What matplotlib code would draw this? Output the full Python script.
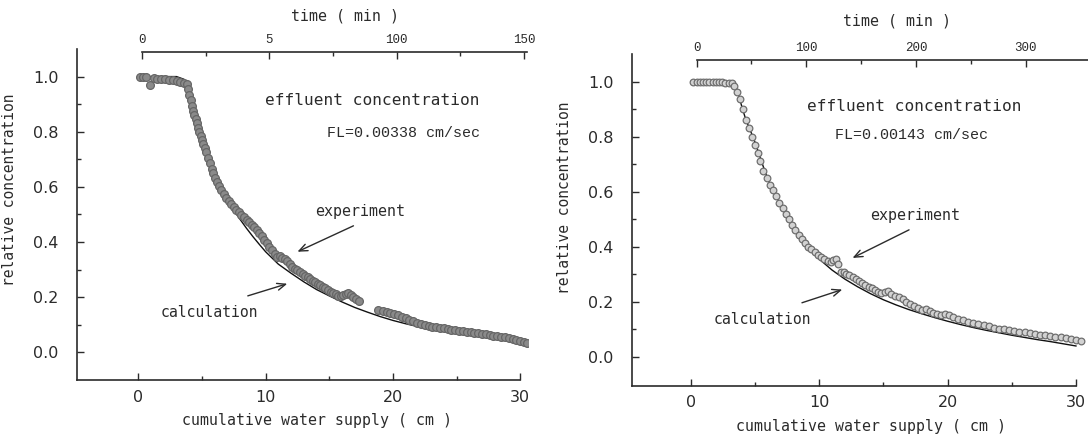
import matplotlib
matplotlib.use("Agg")
import matplotlib.pyplot as plt
from matplotlib import font_manager
from matplotlib.ticker import FixedLocator

# ---- values (x = cumulative water supply in cm) ----
left_exp_x = [0.15, 0.4, 0.6, 0.9, 1.2, 1.5, 1.8, 2.1, 2.4, 2.7, 3.0, 3.3, 3.6, 3.8,
              3.9, 4.0, 4.1, 4.2, 4.3, 4.4, 4.5, 4.6, 4.7, 4.8, 4.9, 5.0, 5.1, 5.2,
              5.3, 5.45, 5.6, 5.75, 5.9, 6.05, 6.2, 6.35, 6.5, 6.7, 6.9, 7.1, 7.3,
              7.5, 7.7, 7.9, 8.1, 8.3, 8.5, 8.7, 8.9, 9.1, 9.3, 9.5, 9.7, 9.9, 10.1,
              10.3, 10.5, 10.7, 10.9, 11.1, 11.3, 11.5, 11.7, 11.9, 12.1, 12.3, 12.5,
              12.7, 12.9, 13.1, 13.3, 13.5, 13.7, 13.9, 14.1, 14.3, 14.5, 14.7, 14.9,
              15.1, 15.3, 15.5, 15.7, 15.9, 16.1, 16.3, 16.5, 16.7, 16.9, 17.1, 17.3,
              18.8, 19.2, 19.5, 19.8, 20.1, 20.4, 20.7, 21.0, 21.3, 21.6, 21.9, 22.2,
              22.5, 22.8, 23.1, 23.4, 23.7, 24.0, 24.3, 24.6, 24.9, 25.2, 25.5, 25.8,
              26.1, 26.4, 26.7, 27.0, 27.3, 27.6, 27.9, 28.2, 28.5, 28.8, 29.1, 29.4,
              29.7, 30.0, 30.3, 30.5]
left_exp_y = [1.000, 0.999, 0.997, 0.970, 0.994, 0.992, 0.991, 0.990, 0.988, 0.986, 0.984, 0.981, 0.977, 0.973,
              0.955, 0.935, 0.915, 0.895, 0.875, 0.860, 0.845, 0.830, 0.815, 0.800, 0.785, 0.770, 0.755, 0.740,
              0.725, 0.705, 0.685, 0.665, 0.650, 0.632, 0.617, 0.603, 0.590, 0.575, 0.561, 0.549, 0.538,
              0.527, 0.517, 0.508, 0.499, 0.490, 0.481, 0.472, 0.463, 0.453, 0.443, 0.432, 0.421, 0.409, 0.396,
              0.383, 0.370, 0.355, 0.346, 0.348, 0.342, 0.337, 0.330, 0.320, 0.311, 0.304, 0.297,
              0.290, 0.283, 0.278, 0.272, 0.266, 0.260, 0.254, 0.248, 0.243, 0.238, 0.232, 0.226,
              0.220, 0.215, 0.210, 0.206, 0.205, 0.208, 0.213, 0.214, 0.208, 0.200, 0.193, 0.185,
              0.152, 0.150, 0.147, 0.143, 0.139, 0.134, 0.129, 0.124, 0.119, 0.114, 0.108, 0.103,
              0.098, 0.095, 0.093, 0.091, 0.089, 0.087, 0.085, 0.083, 0.081, 0.079, 0.077, 0.075,
              0.073, 0.071, 0.069, 0.067, 0.065, 0.063, 0.061, 0.059, 0.057, 0.055, 0.052, 0.049,
              0.046, 0.043, 0.039, 0.035]
left_calc_x = [0.0, 3.0, 3.6, 3.9, 4.2, 4.6, 5.0, 5.5, 6.0, 6.5, 7.0, 7.5, 8.0, 8.5, 9.0,
               9.5, 10.0, 11.0, 12.0, 13.0, 14.0, 15.0, 16.0, 17.0, 18.0, 19.0, 20.0,
               21.0, 22.0, 23.0, 24.0, 26.0, 28.0, 30.0]
left_calc_y = [1.0, 1.0, 0.99, 0.95, 0.89, 0.82, 0.76, 0.695, 0.64, 0.595, 0.555, 0.518, 0.482,
               0.450, 0.420, 0.392, 0.365, 0.320, 0.287, 0.256, 0.228, 0.205, 0.183, 0.163,
               0.146, 0.130, 0.116, 0.104, 0.093, 0.085, 0.078, 0.066, 0.054, 0.043]

right_exp_x = [0.2, 0.45, 0.7, 0.95, 1.2, 1.45, 1.7, 1.95, 2.2, 2.45, 2.7, 2.95, 3.2, 3.4,
               3.6, 3.8, 4.05, 4.3, 4.55, 4.8, 5.0, 5.2, 5.4, 5.65, 5.9, 6.15, 6.4, 6.65,
               6.9, 7.15, 7.4, 7.65, 7.9, 8.15, 8.4, 8.65, 8.9, 9.15, 9.4, 9.65, 9.9,
               10.15, 10.4, 10.65, 10.9, 11.1, 11.3, 11.5,
               11.7, 11.9, 12.1, 12.35, 12.6, 12.85, 13.1, 13.35, 13.6, 13.85, 14.1,
               14.35, 14.6, 14.85, 15.1, 15.35, 15.6, 15.9, 16.2, 16.5, 16.8, 17.1,
               17.4, 17.7, 18.0, 18.3, 18.6, 18.9, 19.2, 19.5, 19.8, 20.1, 20.4, 20.8,
               21.2, 21.6, 22.0, 22.4, 22.8, 23.2, 23.6, 24.0, 24.4, 24.8, 25.2, 25.6,
               26.0, 26.4, 26.8, 27.2, 27.6, 28.0, 28.4, 28.8, 29.2, 29.6, 30.0, 30.4]
right_exp_y = [1.000, 1.000, 0.999, 0.999, 0.998, 0.998, 0.998, 0.997, 0.997, 0.997, 0.996, 0.996, 0.993, 0.982,
               0.962, 0.935, 0.900, 0.860, 0.830, 0.800, 0.770, 0.742, 0.712, 0.675, 0.648, 0.625, 0.605, 0.583,
               0.560, 0.540, 0.520, 0.500, 0.478, 0.460, 0.443, 0.428, 0.412, 0.400, 0.390, 0.380, 0.370,
               0.362, 0.355, 0.348, 0.345, 0.350, 0.354, 0.338,
               0.306, 0.307, 0.302, 0.296, 0.290, 0.283, 0.276, 0.268, 0.262, 0.255, 0.248,
               0.242, 0.236, 0.230, 0.236, 0.240, 0.228, 0.222, 0.216, 0.210, 0.200, 0.192,
               0.184, 0.176, 0.170, 0.174, 0.166, 0.160, 0.156, 0.153, 0.156, 0.150, 0.144, 0.138,
               0.132, 0.127, 0.122, 0.118, 0.114, 0.110, 0.106, 0.102, 0.099, 0.096, 0.093, 0.090,
               0.088, 0.085, 0.083, 0.080, 0.078, 0.076, 0.073, 0.070, 0.067, 0.064, 0.061, 0.058]
right_calc_x = [0.0, 3.0, 3.4, 3.7, 4.0, 4.3, 4.7, 5.0, 5.4, 5.8, 6.2, 6.6, 7.0, 7.5, 8.0,
                8.5, 9.0, 9.5, 10.0, 11.0, 12.0, 13.0, 14.0, 15.0, 16.0, 17.0, 18.0,
                19.0, 20.0, 21.0, 22.0, 23.0, 24.0, 25.0, 26.0, 27.0, 28.0, 29.0, 30.0]
right_calc_y = [1.0, 1.0, 0.99, 0.955, 0.905, 0.86, 0.815, 0.78, 0.725, 0.67, 0.625, 0.588, 0.552,
                0.510, 0.472, 0.438, 0.408, 0.380, 0.355, 0.315, 0.282, 0.254, 0.229, 0.207,
                0.188, 0.171, 0.156, 0.142, 0.129, 0.117, 0.106, 0.096, 0.087, 0.078, 0.070,
                0.062, 0.055, 0.047, 0.039]

y_ticks = [0.0, 0.2, 0.4, 0.6, 0.8, 1.0]
y_tick_labels = ["0.0", "0.2", "0.4", "0.6", "0.8", "1.0"]
x_ticks = [0, 10, 20, 30]

left_time_ticks = [0, 50, 100, 150]
left_time_labels = ["0", "5", "100", "150"]
right_time_ticks = [0, 100, 200, 300]
right_time_labels = ["0", "100", "200", "300"]

avail = {f.name for f in font_manager.fontManager.ttflist}
NARROW = "Liberation Sans Narrow" if "Liberation Sans Narrow" in avail else "DejaVu Sans"
TICK_SIZE = 14 if NARROW == "Liberation Sans Narrow" else 11.5
MONO = "DejaVu Sans Mono"
COURIER = "Liberation Mono"
INK = "#2b2b2b"
W, H = 1088, 438


def setup_axes(ax, xmin, xmax, ymin):
    ax.set_xlim(xmin, xmax)
    ax.set_ylim(ymin, 1.1)
    ax.spines["right"].set_visible(False)
    ax.spines["top"].set_visible(False)
    ax.spines["bottom"].set_bounds(xmin, 30.0)
    for s in ("left", "bottom"):
        ax.spines[s].set_color(INK)
        ax.spines[s].set_linewidth(1.2)
    ax.set_yticks(y_ticks, labels=y_tick_labels)
    ax.yaxis.set_minor_locator(FixedLocator([0.1, 0.3, 0.5, 0.7, 0.9]))
    ax.set_xticks(x_ticks)
    ax.xaxis.set_minor_locator(FixedLocator([5, 15, 25]))
    ax.tick_params(axis="both", which="major", direction="in", length=5, width=1,
                   color=INK, labelcolor=INK)
    ax.tick_params(axis="both", which="minor", direction="in", length=3, width=1, color=INK)
    ax.tick_params(axis="y", which="major", pad=13)
    ax.tick_params(axis="x", which="major", pad=7)
    for lab in ax.get_xticklabels() + ax.get_yticklabels():
        lab.set_family(NARROW)
        lab.set_fontsize(TICK_SIZE)


def add_time_axis(ax, offset, factor, ticks, labels, minor, end, loc):
    sec = ax.secondary_xaxis(loc, functions=(lambda x: (x - offset) * factor,
                                             lambda t: t / factor + offset))
    sec.set_xticks(ticks, labels=labels)
    sec.xaxis.set_minor_locator(FixedLocator(minor))
    sec.spines["top"].set_bounds(0, end)
    sec.spines["top"].set_color(INK)
    sec.spines["top"].set_linewidth(1.2)
    sec.tick_params(which="major", direction="in", length=5, width=1, color=INK,
                    labelcolor=INK, pad=4)
    sec.tick_params(which="minor", direction="in", length=3, width=1, color=INK)
    for lab in sec.get_xticklabels():
        lab.set_family(COURIER)
        lab.set_fontsize(9)
    return sec


# pixel layout of the two panels: (x px of xmin, px per cm, y px of bottom, y px of top)
L_XMIN, L_XMAX, L_PX0, L_SCALE = -4.84, 30.6, 76.7, 12.73
R_XMIN, R_XMAX, R_PX0, R_SCALE = -4.6, 33.5, 631.7, 12.84
L_W = (L_XMAX - L_XMIN) * L_SCALE
R_W = (R_XMAX - R_XMIN) * R_SCALE

fig = plt.figure(figsize=(W / 100, H / 100), dpi=100)
ax1 = fig.add_axes([L_PX0 / W, 1 - 380 / H, L_W / W, (380 - 49) / H])
ax2 = fig.add_axes([R_PX0 / W, 1 - 385.6 / H, R_W / W, (385.6 - 54) / H])

panels = [
    dict(ax=ax1, xmin=L_XMIN, xmax=L_XMAX, ymin=-0.1, width=L_W, ex=left_exp_x, ey=left_exp_y,
         cx=left_calc_x, cy=left_calc_y, fc="#8a8a8a", ec="#666666", ms=5.6,
         fl="FL=0.00338 cm/sec", eff=(18.4, 0.915), flpos=(20.8, 0.796), timepos=(16.2, 1.221),
         exp=(17.4, 0.512), exp_arrow=((16.9, 0.459), (12.5, 0.365)),
         calc=(5.6, 0.146), calc_arrow=((8.6, 0.205), (11.7, 0.249)), ylab_y=0.575),
    dict(ax=ax2, xmin=R_XMIN, xmax=R_XMAX, ymin=-0.105, width=R_W, ex=right_exp_x, ey=right_exp_y,
         cx=right_calc_x, cy=right_calc_y, fc="#d2d2d2", ec="#6e6e6e", ms=4.8,
         fl="FL=0.00143 cm/sec", eff=(17.4, 0.908), flpos=(17.2, 0.806), timepos=(16.1, 1.22),
         exp=(17.5, 0.512), exp_arrow=((17.0, 0.461), (12.6, 0.359)),
         calc=(5.6, 0.136), calc_arrow=((8.66, 0.196), (11.8, 0.244)), ylab_y=0.567),
]

for p in panels:
    ax = p["ax"]
    setup_axes(ax, p["xmin"], p["xmax"], p["ymin"])
    ax.plot(p["cx"], p["cy"], color="#111111", lw=1.0, zorder=2)
    ax.plot(p["ex"], p["ey"], ls="none", marker="o", ms=p["ms"], mfc=p["fc"], mec=p["ec"],
            mew=0.9, zorder=3)

    ax.set_ylabel("relative concentration", family=MONO, fontsize=10.5, color=INK)
    ax.yaxis.set_label_coords(-60 / p["width"], p["ylab_y"])
    ax.text(14.0, -41 / 331, "cumulative water supply ( cm )", family=MONO, fontsize=10.7,
            color=INK, ha="center", va="center", transform=ax.get_xaxis_transform())
    ax.text(*p["eff"], "effluent concentration", family=MONO, fontsize=11.6,
            color=INK, ha="center", va="center")
    ax.text(*p["flpos"], p["fl"], family=COURIER, fontsize=10.8, color=INK,
            ha="center", va="center")
    ax.text(*p["exp"], "experiment", family=MONO, fontsize=10.8, color=INK,
            ha="center", va="center")
    ax.annotate("", xy=p["exp_arrow"][1], xytext=p["exp_arrow"][0],
                arrowprops=dict(arrowstyle="->,head_length=0.6,head_width=0.25", lw=1.0,
                                color=INK, shrinkA=0, shrinkB=0))
    ax.text(*p["calc"], "calculation", family=MONO, fontsize=10.6, color=INK,
            ha="center", va="center")
    ax.annotate("", xy=p["calc_arrow"][1], xytext=p["calc_arrow"][0],
                arrowprops=dict(arrowstyle="->,head_length=0.6,head_width=0.25", lw=1.0,
                                color=INK, shrinkA=0, shrinkB=0))
    ax.text(*p["timepos"], "time ( min )", family=MONO, fontsize=10.7, color=INK,
            ha="center", va="center", clip_on=False)

add_time_axis(ax1, 0.3, 5.0, left_time_ticks, left_time_labels, [25, 75, 125], 151, 0.991)
add_time_axis(ax2, 0.45, 11.7, right_time_ticks, right_time_labels, [50, 150, 250],
              400, 0.983)

fig.savefig("out.png", dpi=100)
